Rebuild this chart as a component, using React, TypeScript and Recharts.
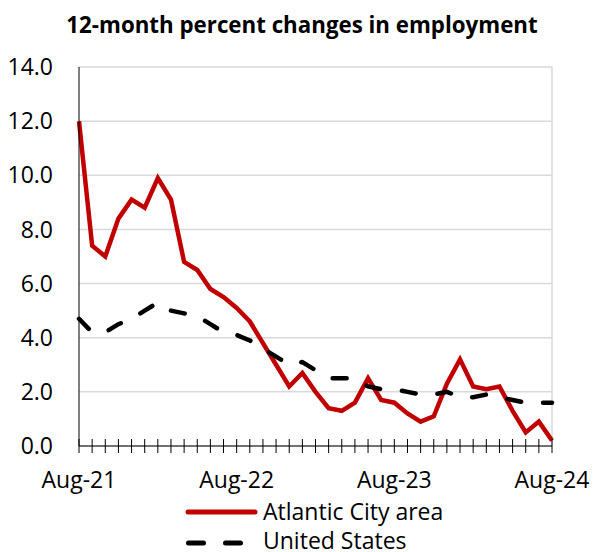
import { CartesianGrid, Line, LineChart, ReferenceLine, XAxis, YAxis } from "recharts";

const months = [
  "Aug-21", "Sep-21", "Oct-21", "Nov-21", "Dec-21", "Jan-22", "Feb-22", "Mar-22", "Apr-22", "May-22", "Jun-22", "Jul-22",
  "Aug-22", "Sep-22", "Oct-22", "Nov-22", "Dec-22", "Jan-23", "Feb-23", "Mar-23", "Apr-23", "May-23", "Jun-23", "Jul-23",
  "Aug-23", "Sep-23", "Oct-23", "Nov-23", "Dec-23", "Jan-24", "Feb-24", "Mar-24", "Apr-24", "May-24", "Jun-24", "Jul-24",
  "Aug-24",
];

const atlanticCity = [
  12.0, 7.4, 7.0, 8.4, 9.1, 8.8, 9.9, 9.1, 6.8, 6.5, 5.8, 5.5,
  5.1, 4.6, 3.8, 3.0, 2.2, 2.7, 2.0, 1.4, 1.3, 1.6, 2.5, 1.7,
  1.6, 1.2, 0.9, 1.1, 2.3, 3.2, 2.2, 2.1, 2.2, 1.3, 0.5, 0.9,
  0.2,
];

const unitedStates = [
  4.7, 4.2, 4.2, 4.5, 4.7, 5.0, 5.3, 5.0, 4.9, 4.8, 4.5, 4.2,
  4.1, 3.9, 3.6, 3.3, 3.0, 3.1, 2.8, 2.5, 2.5, 2.5, 2.2, 2.1,
  2.1, 2.0, 1.9, 1.9, 2.0, 1.8, 1.8, 1.9, 1.8, 1.7, 1.6, 1.6,
  1.6,
];

const yTicks = [0, 2, 4, 6, 8, 10, 12, 14];
const labelledMonths = ["Aug-21", "Aug-22", "Aug-23", "Aug-24"];

const data = months.map((m, i) => ({ month: m, ac: atlanticCity[i], us: unitedStates[i] }));

const FONT = "'Open Sans', sans-serif";
const RED = "#C00000";

// every month gets a cross tick, only the Augusts get a label
const MonthTick = (props: any) => {
  const { x, y, payload } = props;
  return (
    <g>
      <line x1={x} x2={x} y1={y - 7} y2={y + 7} stroke="#000" strokeWidth={1} />
      {labelledMonths.includes(payload.value) && (
        <text x={x} y={y + 42} textAnchor="middle" fontSize={23} fontFamily={FONT} fill="#000">
          {payload.value}
        </text>
      )}
    </g>
  );
};

export default function App() {
  return (
    <div style={{ position: "absolute", left: 0, top: 0, width: 593, height: 552, background: "#fff", overflow: "hidden" }}>
      <LineChart width={593} height={552} data={data} margin={{ top: 67, right: 41, left: 0, bottom: 0 }}>
        <CartesianGrid vertical={false} stroke="#D9D9D9" strokeWidth={1.5} />
        <ReferenceLine x="Aug-24" stroke="#D9D9D9" strokeWidth={1.5} />
        <XAxis
          dataKey="month"
          interval={0}
          height={106}
          tickSize={0}
          tickMargin={0}
          tickLine={false}
          axisLine={{ stroke: "#000", strokeWidth: 1 }}
          tick={<MonthTick />}
        />
        <YAxis
          width={79}
          domain={[0, 14]}
          ticks={yTicks}
          tickFormatter={(v: number) => v.toFixed(1)}
          tickLine={false}
          tickSize={0}
          tickMargin={26}
          axisLine={{ stroke: "#000", strokeWidth: 1 }}
          tick={{ fontSize: 23, fontFamily: FONT, fill: "#000" }}
        />
        <Line type="linear" dataKey="ac" stroke={RED} strokeWidth={4.5} dot={false} isAnimationActive={false} />
        <Line
          type="linear"
          dataKey="us"
          stroke="#000"
          strokeWidth={4.5}
          strokeDasharray="14 22"
          strokeLinecap="round"
          dot={false}
          isAnimationActive={false}
        />
      </LineChart>
      <svg width={593} height={552} style={{ position: "absolute", left: 0, top: 0, pointerEvents: "none" }}>
        <text x={302} y={33} textAnchor="middle" fontSize={22.3} fontWeight={700} fontFamily={FONT} fill="#000">
          12-month percent changes in employment
        </text>
        <line x1={188} x2={255} y1={512} y2={512} stroke={RED} strokeWidth={5} strokeLinecap="round" />
        <text x={263} y={520} fontSize={23} fontFamily={FONT} fill="#000">Atlantic City area</text>
        <line x1={188.5} x2={240.5} y1={543} y2={543} stroke="#000" strokeWidth={5} strokeDasharray="15 22" strokeLinecap="round" />
        <text x={263} y={549} fontSize={23} fontFamily={FONT} fill="#000">United States</text>
      </svg>
    </div>
  );
}
